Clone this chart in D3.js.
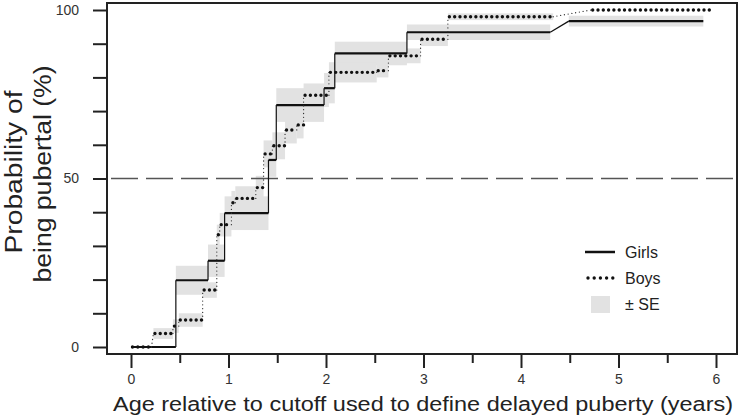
<!DOCTYPE html>
<html lang="en">
<head>
<meta charset="UTF-8">
<title>Probability of being pubertal</title>
<script src="https://d3js.org/d3.v7.min.js"></script>
<style>
  body { margin: 0; background: #fff; font-family: "Liberation Sans", Arial, sans-serif; }
  .axis text { font-size: 14px; fill: #333; font-family: "Liberation Sans", Arial, sans-serif; }
  .axis line { stroke: #222; stroke-width: 2; }
  .title { fill: #222; }
  .legend text { font-size: 16px; fill: #222; }
</style>
</head>
<body>
<div id="chart"></div>
<script>
// tick values
const xMajor = [0, 1, 2, 3, 4, 5, 6];
const xMinor = [0.5, 1.5, 2.5, 3.5, 4.5, 5.5];
const yTicks = [0, 10, 20, 30, 40, 50, 60, 70, 80, 90, 100];
const yLabels = [0, 50, 100];

// Girls: each step starts, ends, level (%), SE (%)
const girlsStart = [0, 0.46, 0.79, 0.96, 1.41, 1.49, 1.98, 2.09, 2.83, 4.49];
const girlsEnd   = [0.46, 0.79, 0.96, 1.41, 1.49, 1.98, 2.09, 2.83, 4.30, 5.87];
const girlsProb  = [0, 19.8, 25.6, 39.7, 55.5, 71.8, 76.8, 87.1, 93.4, 96.7];
const girlsSE    = [0, 4.3, 4.8, 5.0, 5.0, 5.0, 4.5, 3.5, 2.3, 1.6];

// Boys
const boysStart = [0, 0.23, 0.43, 0.49, 0.735, 0.88, 0.91, 1.03, 1.07, 1.28, 1.36, 1.45, 1.58, 1.70, 1.77, 2.03, 2.52, 2.64, 2.97, 3.25, 4.72];
const boysEnd   = [0.21, 0.43, 0.49, 0.735, 0.88, 0.91, 1.03, 1.07, 1.28, 1.36, 1.45, 1.58, 1.70, 1.77, 2.03, 2.52, 2.64, 2.97, 3.25, 4.33, 5.96];
const boysProb  = [0, 4.0, 6.2, 8.0, 16.9, 33.3, 36.3, 42.8, 44.1, 47.3, 57.3, 59.7, 64.4, 65.9, 74.7, 81.5, 82.0, 86.4, 91.3, 98.0, 100];
const boysSE    = [0, 1.6, 2.0, 2.0, 2.3, 3.0, 3.5, 3.5, 3.6, 3.5, 4.0, 4.0, 4.0, 4.0, 3.5, 3.0, 2.0, 2.2, 2.0, 1.0, 0];

const W = 742, H = 416;
const frame = { left: 107, top: 3, right: 737, bottom: 354 };

const svg = d3.select("#chart").append("svg")
    .attr("width", W).attr("height", H);

const x = d3.scaleLinear().domain([0, 6]).range([131, 716]);
const y = d3.scaleLinear().domain([0, 100]).range([347, 10]);

function steps(start, end, prob, se) {
    return start.map((s, i) => ({ s: s, e: end[i], p: prob[i], se: se[i] }));
}
const girls = steps(girlsStart, girlsEnd, girlsProb, girlsSE);
const boys = steps(boysStart, boysEnd, boysProb, boysSE);

// SE bands
const bands = svg.append("g");
[girls, boys].forEach(data => {
    bands.selectAll(null)
        .data(data.filter(d => d.se > 0))
        .enter().append("rect")
        .attr("x", d => x(d.s))
        .attr("width", d => x(d.e) - x(d.s))
        .attr("y", d => y(d.p + d.se))
        .attr("height", d => y(d.p - d.se) - y(d.p + d.se))
        .attr("fill", "#e2e2e2");
});

// 50% reference line
svg.append("line")
    .attr("x1", 111).attr("x2", frame.right)
    .attr("y1", y(50)).attr("y2", y(50))
    .attr("stroke", "#555").attr("stroke-width", 1.5)
    .attr("stroke-dasharray", "27 8");

// connectors between steps
function connectors(data) {
    return data.slice(0, -1).map((d, i) => ({ x1: d.e, y1: d.p, x2: data[i + 1].s, y2: data[i + 1].p }));
}

// girls: solid
svg.append("g").selectAll("line")
    .data(connectors(girls)).enter().append("line")
    .attr("x1", d => x(d.x1)).attr("y1", d => y(d.y1))
    .attr("x2", d => x(d.x2)).attr("y2", d => y(d.y2))
    .attr("stroke", "#111").attr("stroke-width", 1.2);
svg.append("g").selectAll("line")
    .data(girls).enter().append("line")
    .attr("x1", d => x(d.s)).attr("x2", d => x(d.e))
    .attr("y1", d => y(d.p)).attr("y2", d => y(d.p))
    .attr("stroke", "#111").attr("stroke-width", 2.2);

// boys: dotted
svg.append("g").selectAll("line")
    .data(connectors(boys)).enter().append("line")
    .attr("x1", d => x(d.x1)).attr("y1", d => y(d.y1))
    .attr("x2", d => x(d.x2)).attr("y2", d => y(d.y2))
    .attr("stroke", "#333").attr("stroke-width", 1.3)
    .attr("stroke-linecap", "round").attr("stroke-dasharray", "0 3.8");
svg.append("g").selectAll("line")
    .data(boys).enter().append("line")
    .attr("x1", d => x(d.s) + 1.5).attr("x2", d => x(d.e))
    .attr("y1", d => y(d.p)).attr("y2", d => y(d.p))
    .attr("stroke", "#111").attr("stroke-width", 3.4)
    .attr("stroke-linecap", "round").attr("stroke-dasharray", "0 5.3");

// frame
svg.append("rect")
    .attr("x", frame.left).attr("y", frame.top)
    .attr("width", frame.right - frame.left).attr("height", frame.bottom - frame.top)
    .attr("fill", "none").attr("stroke", "#222").attr("stroke-width", 2);

// axes
svg.append("g").attr("class", "axis")
    .attr("transform", `translate(0,${frame.bottom})`)
    .call(d3.axisBottom(x).tickValues(xMajor).tickSize(14).tickPadding(6).tickFormat(d3.format("d")))
    .call(g => g.select(".domain").remove());
svg.append("g").attr("class", "axis")
    .attr("transform", `translate(0,${frame.bottom})`)
    .call(d3.axisBottom(x).tickValues(xMinor).tickSize(9).tickFormat(""))
    .call(g => g.select(".domain").remove());
svg.append("g").attr("class", "axis")
    .attr("transform", `translate(${frame.left},0)`)
    .call(d3.axisLeft(y).tickValues(yTicks).tickSize(14).tickPadding(14)
        .tickFormat(d => yLabels.includes(d) ? d : ""))
    .call(g => g.select(".domain").remove());

// axis titles
svg.append("text").attr("class", "title")
    .attr("x", 423).attr("y", 411)
    .attr("text-anchor", "middle")
    .attr("font-size", 20)
    .attr("textLength", 620).attr("lengthAdjust", "spacingAndGlyphs")
    .text("Age relative to cutoff used to define delayed puberty (years)");

svg.append("text").attr("class", "title")
    .attr("transform", "translate(22,172) rotate(-90)")
    .attr("text-anchor", "middle")
    .attr("font-size", 23)
    .attr("textLength", 163).attr("lengthAdjust", "spacingAndGlyphs")
    .text("Probability of");
svg.append("text").attr("class", "title")
    .attr("transform", "translate(51,174) rotate(-90)")
    .attr("text-anchor", "middle")
    .attr("font-size", 23)
    .attr("textLength", 217).attr("lengthAdjust", "spacingAndGlyphs")
    .text("being pubertal (%)");

// legend
const lg = svg.append("g").attr("class", "legend");
lg.append("line")
    .attr("x1", 585).attr("x2", 615).attr("y1", 252).attr("y2", 252)
    .attr("stroke", "#111").attr("stroke-width", 2.5);
lg.append("line")
    .attr("x1", 588).attr("x2", 614).attr("y1", 278).attr("y2", 278)
    .attr("stroke", "#111").attr("stroke-width", 3.4)
    .attr("stroke-linecap", "round").attr("stroke-dasharray", "0 6.2");
lg.append("rect")
    .attr("x", 591).attr("y", 296).attr("width", 19).attr("height", 17)
    .attr("fill", "#e2e2e2");
lg.selectAll("text")
    .data(["Girls", "Boys", "\u00b1 SE"])
    .enter().append("text")
    .attr("x", 625)
    .attr("y", (d, i) => 252 + i * 26)
    .attr("dy", "0.35em")
    .text(d => d);
</script>
</body>
</html>
